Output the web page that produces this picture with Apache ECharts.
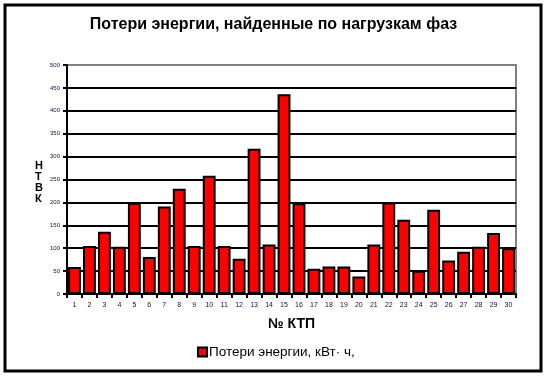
<!DOCTYPE html>
<html>
<head>
<meta charset="utf-8">
<script src="https://cdn.jsdelivr.net/npm/echarts@6/dist/echarts.min.js"></script>
<style>
html,body{margin:0;padding:0;background:#fff;}
#main{width:547px;height:377px;}
</style>
</head>
<body>
<div id="main"></div>
<script>
var ktp = [];
for (var i = 1; i <= 30; i++) { ktp.push(String(i)); }
var losses = [59, 105, 136, 103, 199, 81, 191, 230, 105, 258,
              105, 77, 317, 108, 436, 198, 55, 60, 60, 38,
              108, 200, 162, 51, 184, 73, 92, 103, 133, 100];

var chart = echarts.init(document.getElementById("main"));
var option = {
    animation: false,
    backgroundColor: '#fff',
    title: {
        text: 'Потери энергии, найденные по нагрузкам фаз',
        left: 'center',
        top: 12,
        textStyle: {fontFamily: 'Liberation Sans', fontSize: 16, fontWeight: 'bold', color: '#000'}
    },
    legend: {
        bottom: 13,
        left: 192,
        itemWidth: 9,
        itemHeight: 9,
        itemGap: 4,
        icon: 'rect',
        textStyle: {fontFamily: 'Liberation Sans', fontSize: 13.5, color: '#000', padding: [0, 0, 0, -3]},
        data: ['Потери энергии, кВт· ч,']
    },
    grid: {
        left: 67, right: 31, top: 65, bottom: 83,
        show: true,
        borderColor: '#808080',
        borderWidth: 2
    },
    xAxis: {
        type: 'category',
        data: ktp,
        name: '№ КТП',
        nameLocation: 'middle',
        nameGap: 23,
        nameTextStyle: {fontFamily: 'Liberation Sans', fontSize: 14, fontWeight: 'bold', color: '#000'},
        axisLine: {lineStyle: {color: '#000', width: 2}},
        axisTick: {show: true, length: 4, lineStyle: {color: '#000', width: 2}},
        axisLabel: {fontFamily: 'Liberation Sans', fontSize: 7, color: '#10104a', margin: 8}
    },
    yAxis: {
        type: 'value',
        min: 0, max: 500, interval: 50,
        axisLine: {show: true, lineStyle: {color: '#000', width: 2}},
        axisTick: {show: true, length: 4, lineStyle: {color: '#000', width: 2}},
        axisLabel: {fontFamily: 'Liberation Sans', fontSize: 6, color: '#10104a', margin: 7},
        splitLine: {showMaxLine: false, lineStyle: {color: '#000', width: 2}}
    },
    series: [{
        name: 'Потери энергии, кВт· ч,',
        type: 'bar',
        data: losses,
        barCategoryGap: '14%',
        itemStyle: {color: '#ff0000', borderColor: '#000', borderWidth: 2}
    }],
    graphic: [
        {
            type: 'rect',
            shape: {x: 5, y: 5, width: 536, height: 366},
            style: {fill: 'none', stroke: '#000', lineWidth: 3},
            silent: true
        },
        {
            type: 'text',
            left: 35,
            top: 160,
            style: {
                text: 'Н\nТ\nВ\nК',
                fontFamily: 'Liberation Sans',
                fontSize: 11,
                fontWeight: 'bold',
                lineHeight: 11,
                fill: '#000'
            }
        }
    ]
};
chart.setOption(option);
</script>
</body>
</html>
